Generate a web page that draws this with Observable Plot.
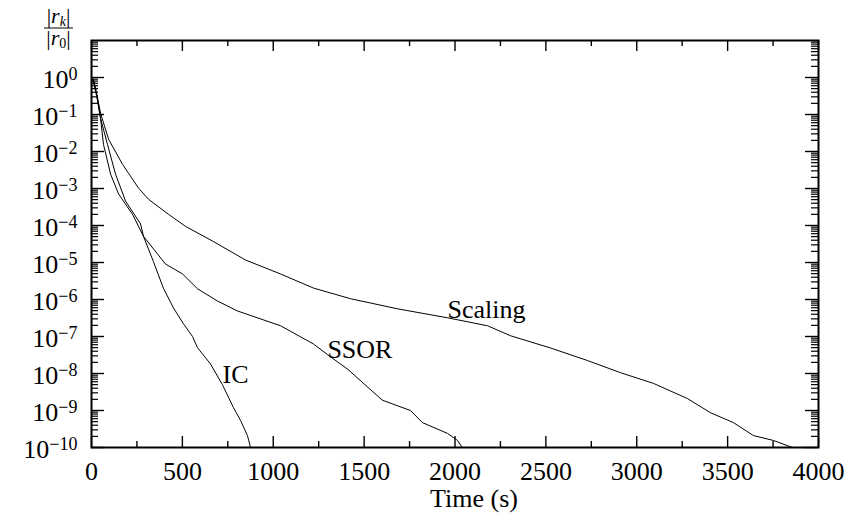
<!DOCTYPE html>
<html><head><meta charset="utf-8">
<script src="https://cdn.jsdelivr.net/npm/d3@7"></script>
<script src="https://cdn.jsdelivr.net/npm/@observablehq/plot@0.6"></script>
<style>
html,body{margin:0;padding:0;background:#fff;}
#chart{position:relative;width:846px;height:514px;}
</style></head><body><div id="chart"></div>
<script>
// ---- data ----
const series = ["IC", "SSOR", "Scaling"];

const icTime = [8, 30, 50, 88, 132, 187, 270, 286, 341, 396, 451, 506, 556, 583, 655, 720, 781, 820, 858, 875];
const icResidual = [0.9, 0.3, 0.078, 0.0155, 0.00245, 4.6e-4, 1.1e-4, 5.1e-5, 1.05e-5, 2.0e-6, 5.9e-7, 2.2e-7, 1.0e-7, 5.0e-8, 1.8e-8, 5.0e-9, 1.2e-9, 5.4e-10, 2.1e-10, 1e-10];

const ssorTime = [8, 30, 50, 66, 105, 149, 226, 286, 407, 501, 583, 693, 803, 1040, 1221, 1300, 1410, 1600, 1755, 1821, 1959, 2014, 2040];
const ssorResidual = [0.9, 0.3, 0.078, 0.0155, 0.00245, 7.1e-4, 2.0e-4, 5.1e-5, 9.1e-6, 4.9e-6, 1.95e-6, 9.1e-7, 4.9e-7, 1.95e-7, 6.3e-8, 3.2e-8, 1.3e-8, 1.9e-9, 1.0e-9, 4.7e-10, 2.4e-10, 1.55e-10, 1e-10];

const scalingTime = [12, 30, 50, 94, 171, 259, 314, 424, 517, 666, 847, 1040, 1221, 1425, 1684, 1959, 2179, 2305, 2525, 2729, 2911, 3092, 3279, 3406, 3532, 3642, 3752, 3857];
const scalingResidual = [0.85, 0.35, 0.107, 0.0214, 0.00447, 0.00102, 5.1e-4, 2.0e-4, 9.5e-5, 3.8e-5, 1.17e-5, 4.9e-6, 2.04e-6, 1.05e-6, 5.6e-7, 3.2e-7, 1.95e-7, 1.05e-7, 4.9e-8, 2.24e-8, 1.05e-8, 5.4e-9, 2.1e-9, 8.7e-10, 4.7e-10, 2.1e-10, 1.55e-10, 1e-10];

const xMajorTicks = [0, 500, 1000, 1500, 2000, 2500, 3000, 3500, 4000];
const xMinorTicks = [250, 750, 1250, 1750, 2250, 2750, 3250, 3750];
const yExponents = [0, -1, -2, -3, -4, -5, -6, -7, -8, -9, -10];

const labelText = ["IC", "SSOR", "Scaling"];
const labelTime = [721, 1298, 1959];
const labelResidual = [5.65e-9, 2.67e-8, 3.19e-7];

// ---- build tables ----
const rows = [];
icTime.forEach((t, i) => rows.push({series: series[0], time: t, residual: icResidual[i]}));
ssorTime.forEach((t, i) => rows.push({series: series[1], time: t, residual: ssorResidual[i]}));
scalingTime.forEach((t, i) => rows.push({series: series[2], time: t, residual: scalingResidual[i]}));
const labels = labelText.map((s, i) => ({text: s, time: labelTime[i], residual: labelResidual[i]}));

const yDecades = yExponents.map(e => Math.pow(10, e));
const yMinor = [];
for (const e of yExponents) for (let m = 2; m <= 9; m++) yMinor.push(m * Math.pow(10, e));

const W = 846, H = 514, mt = 40, mb = 67, ml = 91, mr = 28;
const ph = H - mt - mb, pw = W - ml - mr;
const FONT = "Liberation Serif";

const svg = Plot.plot({
  width: W, height: H,
  marginTop: mt, marginBottom: mb, marginLeft: ml, marginRight: mr,
  style: "background: white; color: black;",
  x: {domain: [0, 4000]},
  y: {type: "log", domain: [1e-10, 10]},
  marks: [
    Plot.line(rows, {x: "time", y: "residual", z: "series", stroke: "black", strokeWidth: 1}),
    // inward ticks
    Plot.tickX(xMajorTicks, {x: d => d, insetTop: ph - 11, stroke: "black", strokeWidth: 1.4}),
    Plot.tickX(xMinorTicks, {x: d => d, insetTop: ph - 6, stroke: "black", strokeWidth: 1.4}),
    Plot.tickX(xMajorTicks, {x: d => d, insetBottom: ph - 11, stroke: "black", strokeWidth: 1.4}),
    Plot.tickX(xMinorTicks, {x: d => d, insetBottom: ph - 6, stroke: "black", strokeWidth: 1.4}),
    Plot.tickY(yDecades, {y: d => d, insetRight: pw - 13, stroke: "black", strokeWidth: 1.4}),
    Plot.tickY(yMinor, {y: d => d, insetRight: pw - 7, stroke: "black", strokeWidth: 1.2}),
    Plot.tickY(yDecades, {y: d => d, insetLeft: pw - 13, stroke: "black", strokeWidth: 1.4}),
    Plot.tickY(yMinor, {y: d => d, insetLeft: pw - 7, stroke: "black", strokeWidth: 1.2}),
    Plot.frame({stroke: "black", strokeWidth: 2}),
    Plot.axisX({ticks: xMajorTicks, tickSize: 0, tickPadding: 14, label: null, tickFormat: d => `${d}`, fontSize: 26, fontFamily: FONT}),
    Plot.axisY({ticks: yDecades, tickSize: 0, tickPadding: 14, label: null,
      tickFormat: d => "10^" + String(Math.round(Math.log10(d))).replace("-", "\u2212"), fontSize: 26, fontFamily: FONT}),
    Plot.text(labels, {x: "time", y: "residual", text: "text", textAnchor: "start", lineAnchor: "bottom", fontSize: 26, fontFamily: FONT}),
    Plot.text(["Time (s)"], {frameAnchor: "bottom", lineAnchor: "bottom", dy: 59, dx: 19, fontSize: 26, fontFamily: FONT})
  ]
});

const root = d3.select(svg).attr("font-family", FONT).attr("font-size", 26);

// superscript exponents for the y tick labels
root.selectAll('g[aria-label="y-axis tick label"] text').each(function () {
  const s = this.textContent;
  const [b, e] = s.split("^");
  const t = d3.select(this);
  t.text(null).attr("y", null).attr("dy", null);
  t.append("tspan").attr("dy", 10.5).text(b);
  t.append("tspan").attr("dy", -8.5).attr("font-size", 18).text(e);
});

// y-axis label: |r_k| / |r_0|
const g = root.append("g")
  .attr("font-family", FONT).attr("font-size", 22).attr("text-anchor", "middle").attr("fill", "black");
const num = g.append("text").attr("x", 58.5).attr("y", 23);
num.append("tspan").text("|");
num.append("tspan").attr("font-style", "italic").text("r");
num.append("tspan").attr("font-style", "italic").attr("font-size", 14).attr("dy", 3).text("k");
num.append("tspan").attr("dy", -3).text("|");
g.append("line").attr("x1", 44).attr("x2", 73).attr("y1", 28).attr("y2", 28).attr("stroke", "black").attr("stroke-width", 1);
const den = g.append("text").attr("x", 58.5).attr("y", 45);
den.append("tspan").text("|");
den.append("tspan").attr("font-style", "italic").text("r");
den.append("tspan").attr("font-size", 14).attr("dy", 3).text("0");
den.append("tspan").attr("dy", -3).text("|");

root.selectAll("text").attr("font-family", FONT);

document.getElementById("chart").appendChild(svg);
</script></body></html>
